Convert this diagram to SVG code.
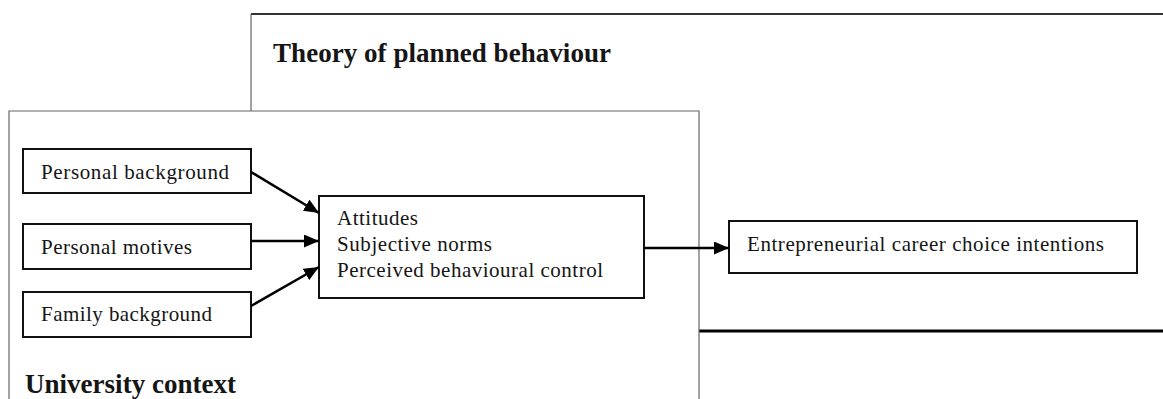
<svg xmlns="http://www.w3.org/2000/svg" width="1163" height="399" viewBox="0 0 1163 399">
<style>
.box{fill:#fff;stroke:#111;stroke-width:2}
.t{font-family:"Liberation Serif","Times New Roman",serif;font-size:21px;fill:#151515}
.h{font-family:"Liberation Serif","Times New Roman",serif;font-size:27px;font-weight:bold;fill:#151515}
.c{stroke:#000;stroke-width:2.5;fill:none;marker-end:url(#ah)}
</style>
<defs>
<marker id="ah" markerUnits="userSpaceOnUse" markerWidth="15" markerHeight="13" refX="15" refY="6.5" orient="auto">
<path d="M0,0 L15,6.5 L0,13 z" fill="#000"/>
</marker>
</defs>
<rect width="1163" height="399" fill="#fff"/>
<g id="tpb">
<line x1="251" y1="14" x2="1163" y2="14" stroke="#333" stroke-width="2"/>
<line x1="251" y1="14" x2="251" y2="111" stroke="#666" stroke-width="1.2"/>
<line x1="699" y1="331" x2="1163" y2="331" stroke="#000" stroke-width="3"/>
<text class="h" x="273" y="62" textLength="338">Theory of planned behaviour</text>
</g>
<g id="university">
<path d="M9,399 V111 H699 V399" fill="none" stroke="#666" stroke-width="1.2"/>
<text class="h" x="25" y="393" textLength="211">University context</text>
</g>
<g id="personal-background">
<rect class="box" x="23" y="149" width="228" height="44"/>
<text class="t" x="41" y="179" textLength="188">Personal background</text>
</g>
<g id="personal-motives">
<rect class="box" x="23" y="224" width="228" height="45"/>
<text class="t" x="41" y="254" textLength="151">Personal motives</text>
</g>
<g id="family-background">
<rect class="box" x="23" y="292" width="228" height="45"/>
<text class="t" x="41" y="321" textLength="171">Family background</text>
</g>
<g id="tpb-constructs">
<rect class="box" x="319" y="196" width="325" height="102"/>
<text class="t" x="337" y="225" textLength="81">Attitudes</text>
<text class="t" x="337" y="251" textLength="155">Subjective norms</text>
<text class="t" x="337" y="277" textLength="266">Perceived behavioural control</text>
</g>
<g id="intentions">
<rect class="box" x="729" y="221" width="408" height="52"/>
<text class="t" x="747" y="251" textLength="357">Entrepreneurial career choice intentions</text>
</g>
<g id="connectors">
<line class="c" x1="251" y1="172" x2="319" y2="213"/>
<line class="c" x1="251" y1="241" x2="319" y2="241"/>
<line class="c" x1="251" y1="306" x2="319" y2="267"/>
<line class="c" x1="644" y1="248" x2="729" y2="248"/>
</g>
</svg>
